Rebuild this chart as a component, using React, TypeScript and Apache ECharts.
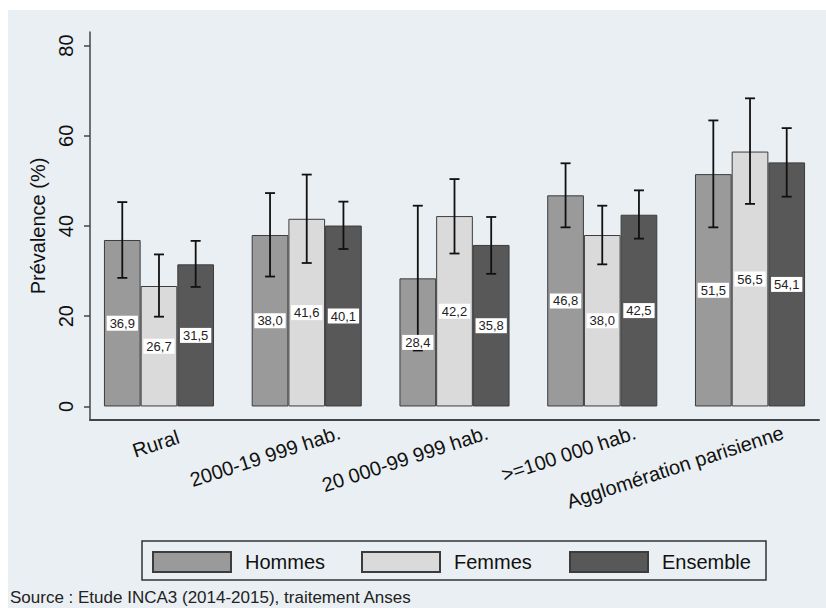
import React, { useEffect, useRef } from "react";
import * as echarts from "echarts";

const CATEGORIES = [
  "Rural",
  "2000-19 999 hab.",
  "20 000-99 999 hab.",
  ">=100 000 hab.",
  "Agglomération parisienne",
];
const SERIES_NAMES = ["Hommes", "Femmes", "Ensemble"];

const HOMMES = [36.9, 38.0, 28.4, 46.8, 51.5];
const FEMMES = [26.7, 41.6, 42.2, 38.0, 56.5];
const ENSEMBLE = [31.5, 40.1, 35.8, 42.5, 54.1];

const HOMMES_LOW = [28.5, 28.8, 12.4, 39.7, 39.7];
const HOMMES_HIGH = [45.3, 47.3, 44.5, 53.9, 63.4];
const FEMMES_LOW = [19.9, 31.8, 33.9, 31.5, 44.9];
const FEMMES_HIGH = [33.7, 51.4, 50.4, 44.5, 68.3];
const ENSEMBLE_LOW = [26.5, 34.9, 29.4, 37.2, 46.5];
const ENSEMBLE_HIGH = [36.7, 45.4, 42.0, 47.9, 61.7];

const Y_TICKS = [0, 20, 40, 60, 80];
const SOURCE = "Source : Etude INCA3 (2014-2015), traitement Anses";
const Y_TITLE = "Prévalence (%)";

const VALUES = [HOMMES, FEMMES, ENSEMBLE];
const LOWS = [HOMMES_LOW, FEMMES_LOW, ENSEMBLE_LOW];
const HIGHS = [HOMMES_HIGH, FEMMES_HIGH, ENSEMBLE_HIGH];
const COLORS = ["#9a9a9a", "#dadada", "#585858"];
const LEGEND_LEFTS = [152, 361, 569];

const FONT = '"Liberation Sans", Arial, Helvetica, sans-serif';
const BG = "#e9eff2";
const CAT_GAP = 0.255;
const Y_MIN = -3;
const Y_MAX = 83;

const fmt = (v: number) => v.toFixed(1).replace(".", ",");

export default function App() {
  const ref = useRef<HTMLDivElement>(null);

  useEffect(() => {
    if (!ref.current) return;
    const chart = echarts.init(ref.current, undefined, { renderer: "svg" });

    const barSeries = SERIES_NAMES.map((name, k) => ({
      name,
      type: "bar",
      xAxisIndex: 0,
      yAxisIndex: 0,
      data: VALUES[k],
      barGap: "0%",
      barCategoryGap: CAT_GAP * 100 + "%",
      itemStyle: { color: COLORS[k], borderColor: "#3c3c3c", borderWidth: 1 },
      z: 2,
    }));

    const errSeries = SERIES_NAMES.map((name, k) => ({
      name: "err-" + name,
      type: "custom",
      xAxisIndex: 0,
      yAxisIndex: 0,
      z: 5,
      data: CATEGORIES.map((_, i) => [i, VALUES[k][i], LOWS[k][i], HIGHS[k][i]]),
      encode: { x: 0, y: [1, 2, 3] },
      renderItem: (_params: any, api: any) => {
        const i = api.value(0);
        const v = api.value(1);
        const lo = api.value(2);
        const hi = api.value(3);
        const band = api.size([1, 0])[0];
        const barW = (band * (1 - CAT_GAP)) / 3;
        const cx = api.coord([i, 0])[0] + (k - 1) * barW;
        const yLo = api.coord([i, lo])[1];
        const yHi = api.coord([i, hi])[1];
        const yMid = api.coord([i, v / 2])[1];
        const half = 5;
        const ls = { stroke: "#111", lineWidth: 1.8 };
        return {
          type: "group",
          children: [
            { type: "line", shape: { x1: cx, y1: yLo, x2: cx, y2: yHi }, style: ls },
            { type: "line", shape: { x1: cx - half, y1: yHi, x2: cx + half, y2: yHi }, style: ls },
            { type: "line", shape: { x1: cx - half, y1: yLo, x2: cx + half, y2: yLo }, style: ls },
            {
              type: "text",
              x: cx,
              y: yMid,
              style: {
                text: fmt(v),
                align: "center",
                verticalAlign: "middle",
                fill: "#222",
                backgroundColor: "#ffffff",
                padding: [1, 3, 0, 3],
                fontSize: 13,
                lineHeight: 14,
                fontFamily: FONT,
              },
            },
          ],
        };
      },
    }));

    const legends = SERIES_NAMES.map((name, k) => ({
      data: [name],
      left: LEGEND_LEFTS[k],
      top: 551,
      orient: "horizontal",
      padding: 0,
      itemWidth: 78,
      itemHeight: 20,
      icon: "rect",
      textStyle: { fontSize: 20, color: "#111", fontFamily: FONT, padding: [0, 0, 0, 9] },
    }));

    const option: any = {
      animation: false,
      textStyle: { fontFamily: FONT },
      graphic: [
        {
          type: "rect",
          z: -100,
          silent: true,
          shape: { x: 8, y: 10, width: 900, height: 598 },
          style: { fill: BG },
        },
        {
          type: "rect",
          z: 10,
          silent: true,
          shape: { x: 142, y: 541, width: 624, height: 39 },
          style: { fill: "none", stroke: "#333", lineWidth: 1.5 },
        },
      ],
      title: {
        text: SOURCE,
        left: 10,
        top: 589,
        padding: 0,
        textStyle: { fontSize: 17, fontWeight: "normal", color: "#222", fontFamily: FONT },
      },
      legend: legends,
      grid: [
        { left: 85.1, width: 738.8, top: 32, height: 388 },
        { left: 90, width: 729, top: 32, height: 388 },
        { left: 118, width: 738.8, top: 32, height: 388 },
      ],
      xAxis: [
        { type: "category", gridIndex: 0, data: CATEGORIES, show: false },
        {
          type: "value",
          gridIndex: 1,
          min: 0,
          max: 1,
          axisLine: { show: true, onZero: false, lineStyle: { color: "#444", width: 2 } },
          axisTick: { show: false },
          axisLabel: { show: false },
          splitLine: { show: false },
        },
        {
          type: "category",
          gridIndex: 2,
          data: CATEGORIES.map((c, i) =>
            i === 0 ? { value: c, textStyle: { padding: [0, 14, 0, 0] } } : c
          ),
          axisLine: { show: false },
          axisTick: { show: false },
          axisLabel: { interval: 0, rotate: 18, fontSize: 20, margin: 12, color: "#111", fontFamily: FONT },
        },
      ],
      yAxis: [
        { type: "value", gridIndex: 0, min: Y_MIN, max: Y_MAX, show: false },
        {
          type: "value",
          gridIndex: 1,
          min: Y_MIN,
          max: Y_MAX,
          name: Y_TITLE,
          nameLocation: "middle",
          nameGap: 35,
          nameTextStyle: { fontSize: 20, color: "#111", fontFamily: FONT },
          axisLine: { show: true, onZero: false, lineStyle: { color: "#444", width: 1.5 } },
          axisTick: { show: true, length: 6, customValues: Y_TICKS, lineStyle: { color: "#444", width: 1.5 } },
          axisLabel: { rotate: 90, fontSize: 20, margin: 14, color: "#111", customValues: Y_TICKS, fontFamily: FONT },
          splitLine: { show: false },
        },
        { type: "value", gridIndex: 2, min: Y_MIN, max: Y_MAX, show: false },
      ],
      series: [...barSeries, ...errSeries],
    };

    chart.setOption(option);
    return () => chart.dispose();
  }, []);

  return (
    <div
      style={{
        position: "absolute",
        left: 0,
        top: 0,
        width: 826,
        height: 608,
        overflow: "hidden",
        background: "#ffffff",
      }}
    >
      <div ref={ref} style={{ position: "absolute", left: 0, top: 0, width: 900, height: 608 }} />
    </div>
  );
}
